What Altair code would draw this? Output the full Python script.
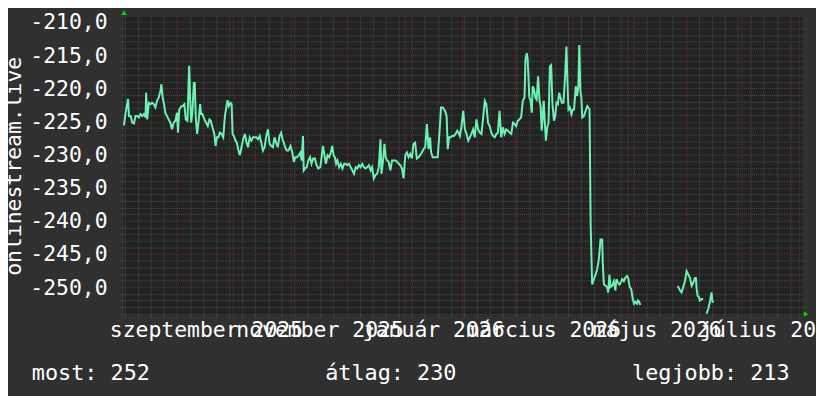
import altair as alt
import pandas as pd

# ---------------- data ----------------
START = pd.Timestamp("2025-08-03 00:00:00")

# segment A: day offsets from START, values
days_a = [0.5,1.4,2.7,3.2,4.1,5.0,5.9,6.7,7.6,8.5,
          9.4,10.3,11.2,12.1,12.4,13.0,13.9,14.7,15.6,16.5,
          17.4,18.3,19.2,20.1,20.6,21.3,22.0,22.7,23.6,24.5,
          25.4,26.3,27.2,28.1,29.0,29.5,30.2,31.3,32.0,32.9,
          33.7,34.6,35.5,36.1,36.6,37.3,38.0,38.5,39.1,39.8,
          40.5,41.4,41.9,42.6,43.7,44.6,45.5,46.4,47.1,48.0,
          49.0,49.7,50.4,51.2,52.0,52.9,53.8,54.7,56.1,56.8,
          57.7,58.3,58.8,59.5,60.4,61.1,61.8,62.7,63.6,64.5,
          65.4,66.3,67.1,68.0,68.9,69.8,70.7,71.6,72.5,73.4,
          74.2,75.1,76.0,76.9,77.8,78.7,79.6,80.5,81.3,82.2,
          83.1,84.0,84.9,85.8,86.3,87.0,87.9,88.8,89.9,90.9,
          91.7,92.5,93.4,94.3,95.2,95.9,96.6,97.0,97.7,98.6,
          99.5,100.4,101.2,102.1,103.0,103.9,104.8,105.9,106.6,107.3,
          108.0,108.9,109.8,110.7,111.5,112.3,113.0,113.7,114.4,115.1,
          116.0,116.9,117.8,118.7,119.5,120.4,121.3,122.2,123.1,124.0,
          124.9,125.8,126.6,127.5,128.4,129.3,130.2,131.1,132.0,132.9,
          133.7,134.6,135.5,136.4,137.3,138.2,138.7,139.6,140.3,141.0,
          141.7,142.6,143.5,144.4,145.3,146.2,147.1,148.0,148.8,149.7,
          150.6,151.5,152.4,153.3,154.2,155.1,155.9,156.8,
          157.7,158.6,159.5,160.4,161.3,162.2,163.1,164.0,164.8,165.4,
          166.2,167.1,168.0,168.9,169.8,170.7,171.6,172.8,173.7,174.3,
          175.0,175.8,176.7,177.6,178.5,179.4,180.1,180.8,181.7,182.6,
          183.5,184.4,185.3,186.2,187.0,187.9,188.8,189.7,190.6,191.5,
          192.4,193.3,194.2,195.0,195.9,196.8,197.7,198.6,199.5,200.4,
          201.2,202.1,203.0,203.9,204.8,205.7,206.6,207.5,208.4,209.3,
          210.2,211.0,211.9,212.8,213.7,214.6,215.5,216.0,216.7,217.2,
          218.1,218.8,219.4,219.9,220.6,221.3,222.0,222.8,223.5,224.2,
          224.7,225.3,225.8,226.3,227.0,227.7,228.4,229.1,229.8,230.5,
          231.3,232.0,232.7,233.4,234.1,234.8,235.5,236.4,237.3,238.0,
          238.5,239.1,239.8,240.7,241.4,242.1,243.0,243.7,244.4,244.9,
          245.5,246.0,246.5,247.4,248.3,249.2,249.7,250.4,
          251.0,251.8,252.7,253.6,254.5,255.4,256.3,257.2,257.5,258.1,
          259.0,259.9,260.4,261.1,261.6,262.5,263.4,264.3,264.8,265.6,
          266.4,267.2,267.9,268.8,269.6,270.5,271.1,272.0,272.8,273.6,
          274.3,275.0,275.9,276.4,277.1,277.6]
vals_a = [-225.6,-223.7,-221.6,-224.2,-224.2,-225.2,-225.3,-224.2,-224.2,-224.4,
          -223.9,-224.2,-223.9,-224.4,-220.7,-224.7,-222.2,-222.4,-222.2,-222.4,
          -222.9,-221.9,-221.4,-220.4,-219.4,-221.4,-222.4,-223.7,-224.2,-224.7,
          -225.2,-226.2,-225.2,-224.9,-223.7,-226.7,-223.2,-222.7,-222.7,-222.4,
          -224.7,-224.9,-216.6,-221.9,-225.2,-223.4,-219.2,-219.2,-224.7,-226.9,
          -225.2,-222.4,-223.9,-223.9,-224.7,-225.2,-225.7,-224.7,-224.9,-225.9,
          -226.9,-228.7,-227.4,-227.4,-226.7,-226.9,-227.4,-224.2,-221.8,-222.7,
          -222.2,-222.4,-226.9,-227.2,-227.9,-228.2,-229.2,-230.1,-228.9,-227.7,
          -226.9,-228.2,-228.9,-227.4,-227.9,-227.4,-227.4,-227.4,-227.7,-227.2,
          -228.2,-229.4,-228.9,-227.2,-226.2,-228.4,-228.7,-228.9,-227.4,-228.2,
          -228.9,-227.2,-226.7,-227.9,-228.2,-228.9,-229.4,-229.4,-228.7,-229.7,
          -231.1,-230.4,-230.4,-230.1,-229.7,-230.9,-227.2,-232.4,-232.1,-231.9,
          -230.9,-230.4,-231.4,-230.6,-230.6,-231.6,-232.1,-231.9,-230.4,-228.7,
          -229.9,-231.4,-230.1,-230.4,-229.7,-228.7,-230.1,-230.4,-231.4,-230.9,
          -231.9,-231.4,-232.1,-231.4,-231.4,-231.6,-231.4,-231.9,-232.4,-232.9,
          -231.9,-232.1,-231.6,-231.9,-231.4,-231.9,-232.1,-231.9,-231.6,-232.4,
          -231.9,-233.6,-233.1,-232.9,-231.9,-227.7,-232.9,-230.9,-228.4,-230.4,
          -230.9,-231.1,-232.4,-230.9,-230.9,-230.9,-231.1,-231.4,-231.6,-232.1,
          -233.6,-230.1,-229.7,-230.4,-229.9,-230.6,-228.4,-228.2,
          -230.6,-230.4,-230.1,-229.7,-229.2,-228.9,-225.4,-229.2,-227.4,-229.7,
          -230.4,-230.4,-230.4,-230.4,-226.9,-222.9,-222.9,-223.4,-224.2,-229.2,
          -227.4,-227.4,-227.2,-227.2,-226.9,-226.4,-226.7,-227.2,-225.7,-223.4,
          -226.2,-226.9,-227.9,-227.4,-226.9,-226.2,-227.4,-224.7,-226.2,-226.7,
          -226.9,-224.4,-221.9,-222.4,-225.2,-225.7,-226.7,-227.2,-227.4,-226.9,
          -226.7,-223.4,-227.4,-225.9,-226.9,-226.2,-226.4,-226.7,-226.9,-225.2,
          -225.4,-225.7,-224.9,-224.7,-224.4,-221.9,-221.4,-215.7,-214.7,-215.7,
          -221.4,-221.9,-223.7,-219.7,-220.2,-221.4,-221.7,-218.2,-221.7,-222.9,
          -226.4,-224.2,-221.9,-224.7,-227.9,-225.9,-225.2,-216.7,-216.5,-222.4,
          -224.9,-224.2,-222.2,-222.4,-220.7,-221.4,-222.2,-222.2,-218.0,-213.7,
          -218.7,-223.2,-222.9,-223.9,-223.2,-223.2,-219.7,-221.2,-219.7,-213.5,
          -220.4,-221.4,-224.4,-224.2,-223.4,-222.7,-222.9,-223.2,
          -240.6,-249.6,-248.8,-248.1,-247.3,-245.8,-242.8,-242.8,-246.3,-249.6,
          -249.8,-250.0,-250.8,-248.1,-250.0,-249.8,-249.1,-250.5,-248.8,-249.3,
          -249.6,-249.3,-248.8,-249.1,-248.6,-248.3,-248.6,-250.0,-250.3,-251.8,
          -252.5,-252.2,-252.5,-252.0,-252.2,-252.7]

days_b = [297.7,299.0,299.8,300.7,301.6,302.5,303.4,304.3,305.2,306.1,
          307.0,307.5,307.9,308.4,309.1,309.6,310.5,311.4]
vals_b = [-249.8,-250.5,-250.8,-250.0,-249.1,-247.6,-248.1,-248.6,-249.8,-249.3,
          -248.6,-248.6,-250.3,-251.3,-251.5,-252.0,-251.8,-251.8]

days_c = [313.2,314.1,315.0,315.9,316.4,317.1]
vals_c = [-254.0,-253.3,-252.2,-250.8,-252.2,-252.2]

MONTHS_HU = ["január", "február", "március", "április", "május", "június",
             "július", "augusztus", "szeptember", "október", "november", "december"]
LABEL_MONTHS = [(2025, 9), (2025, 11), (2026, 1), (2026, 3), (2026, 5), (2026, 7)]
GRID_MONTHS = [(2025, 9), (2025, 10), (2025, 11), (2025, 12), (2026, 1), (2026, 2),
               (2026, 3), (2026, 4), (2026, 5), (2026, 6), (2026, 7), (2026, 8)]
Y_TICKS = list(range(-254, -209))

LEGEND_NAMES = ["most", "átlag", "legjobb"]
LEGEND_VALUES = [252, 230, 213]
Y_TITLE = "onlinestream.live"

# ---------------- styling ----------------
BG = "#303030"
PLOT_BG = "#222222"
LINE = "#6cf2b4"
GRID_MINOR = "#4e4e4e"
GRID_MAJOR = "#6e3030"
ARROW = "#00dd00"
FONT = "DejaVu Sans Mono"
FS = 21.6
W, H = 685, 301

rows = []
for seg, (dd, vv) in enumerate([(days_a, vals_a), (days_b, vals_b), (days_c, vals_c)]):
    for d, v in zip(dd, vv):
        t = START + pd.Timedelta(days=d)
        rows.append({"date": t.strftime("%Y-%m-%dT%H:%M:%S"), "value": v, "seg": seg})
df = pd.DataFrame(rows)

# x axis tick values: weekly (Mondays), month starts, label positions (mid-month)
mondays = pd.date_range("2025-08-04", "2026-08-02", freq="7D")
x_dates = set((d.year, d.month, d.day, 0) for d in mondays)
x_dates |= set((y, m, 1, 0) for y, m in GRID_MONTHS)
x_dates |= set((y, m, 16, 12) for y, m in LABEL_MONTHS)
x_values = [alt.DateTime(year=y, month=m, date=d, hours=h) for (y, m, d, h) in sorted(x_dates)]

months_js = "[" + ",".join("'%s'" % m for m in MONTHS_HU) + "]"
is_label = "hours(datum.value) == 12"
is_month = "date(datum.value) == 1 && hours(datum.value) == 0"

x_axis = alt.Axis(
    values=x_values,
    labelExpr=f"{is_label} ? {months_js}[month(datum.value)] + ' ' + year(datum.value) : ''",
    labelOverlap=False, labelFlush=False, labelBound=False, labelLimit=2000,
    labelFont=FONT, labelFontSize=FS, labelColor="#ffffff", labelPadding=3,
    domain=False, ticks=True, tickSize=2,
    tickColor={"condition": {"test": is_month, "value": GRID_MAJOR}, "value": GRID_MINOR},
    tickOpacity={"condition": {"test": is_label, "value": 0}, "value": 1},
    grid=True, gridWidth=1, gridDash=[1, 1],
    gridColor={"condition": {"test": is_month, "value": GRID_MAJOR}, "value": GRID_MINOR},
    gridOpacity={"condition": {"test": is_label, "value": 0}, "value": 1},
    title=None,
)

is_major = "datum.value % 5 == 0"
y_axis = alt.Axis(
    values=Y_TICKS,
    labelExpr=f"{is_major} ? (datum.value < 0 ? '-' : '') + abs(datum.value) + ',0' : ''",
    labelOverlap=False, labelFont=FONT, labelFontSize=FS, labelColor="#ffffff",
    labelPadding=14, labelOffset=1.0, labelLimit=2000,
    domain=False, ticks=True, tickSize=2,
    tickColor={"condition": {"test": is_major, "value": GRID_MAJOR}, "value": GRID_MINOR},
    grid=True, gridWidth=1, gridDash=[1, 1],
    gridColor={"condition": {"test": is_major, "value": GRID_MAJOR}, "value": GRID_MINOR},
    title=Y_TITLE, titleFont=FONT, titleFontSize=FS, titleFontWeight="normal",
    titleColor="#ffffff", titleAngle=270, titleAlign="center", titleBaseline="alphabetic",
    titleX=-103.5, titleY=H / 2, titleLimit=2000,
)

line = alt.Chart(df).mark_line(color=LINE, strokeWidth=2, clip=True).encode(
    x=alt.X("date:T", axis=x_axis,
            scale=alt.Scale(domain=[alt.DateTime(year=2025, month=8, date=3),
                                    alt.DateTime(year=2026, month=8, date=2, hours=12)])),
    y=alt.Y("value:Q", axis=y_axis,
            scale=alt.Scale(domain=[-254.2, -209.2], nice=False, zero=False)),
    detail="seg:N",
)

one = pd.DataFrame({"k": [0]})
arrow_up = alt.Chart(one).mark_point(shape="triangle-up", filled=True, size=28,
                                     color=ARROW, opacity=1).encode(
    x=alt.value(1), y=alt.value(-4))
arrow_right = alt.Chart(one).mark_point(shape="triangle-right", filled=True, size=28,
                                        color=ARROW, opacity=1).encode(
    x=alt.value(W + 4), y=alt.value(H - 1))

legend_x = [-92.0, 204.0, 513.5]
legend_layers = []
for name, val, lx in zip(LEGEND_NAMES, LEGEND_VALUES, legend_x):
    legend_layers.append(
        alt.Chart(pd.DataFrame({"t": [f"{name}: {val}"]})).mark_text(
            align="left", baseline="alphabetic", font=FONT, fontSize=22, color="#ffffff"
        ).encode(text="t:N", x=alt.value(lx), y=alt.value(366.7))
    )

chart = alt.layer(line, arrow_up, arrow_right, *legend_layers).properties(
    width=W, height=H,
    autosize=alt.AutoSizeParams(type="none"),
    padding={"left": 116, "top": 7, "right": 14, "bottom": 80},
    background=BG,
    usermeta={"embedOptions": {"defaultStyle": "html,body{background:%s;}" % BG}},
).configure_view(fill=PLOT_BG, stroke="transparent")

chart.save("out.html", embed_options={"renderer": "svg", "actions": False})
